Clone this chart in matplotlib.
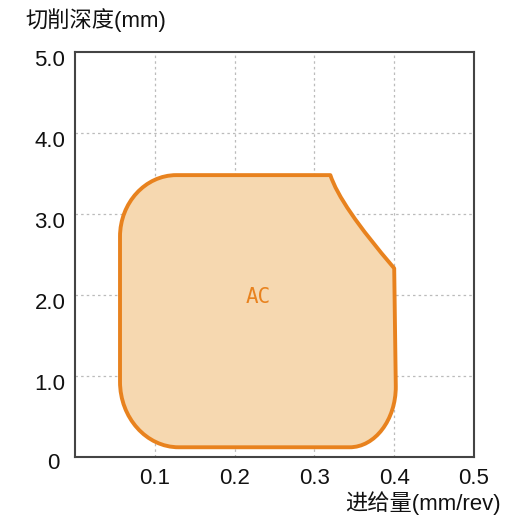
import matplotlib
matplotlib.use("Agg")
import matplotlib.pyplot as plt
from matplotlib.path import Path
from matplotlib.patches import PathPatch
from matplotlib.transforms import ScaledTranslation

# Region outline (feed mm/rev, depth mm).
# Straight-edge end points and the corner points that the rounded corners bend around.
top_left = (0.127, 3.48)
top_right = (0.320, 3.48)
chamfer_ctrl = (0.332, 3.11)
chamfer_end = (0.400, 2.33)
right_low = (0.402, 0.87)
corner_br = (0.402, 0.12)
bottom_right = (0.344, 0.12)
bottom_left = (0.130, 0.12)
corner_bl = (0.0564, 0.12)
left_low = (0.0564, 0.93)
left_high = (0.0564, 2.72)
corner_tl = (0.0564, 3.48)

region_label = "AC"
label_pos = (0.230, 1.98)

x_ticks = [0.1, 0.2, 0.3, 0.4, 0.5]
x_tick_labels = ["0.1", "0.2", "0.3", "0.4", "0.5"]
y_ticks = [1.0, 2.0, 3.0, 4.0, 5.0]
y_tick_labels = ["1.0", "2.0", "3.0", "4.0", "5.0"]

fam = ['Liberation Sans', 'Noto Sans CJK SC', 'DejaVu Sans']
plt.rcParams['font.family'] = fam

K = 0.55


def toward(p, c, k=K):
    return (p[0] + k * (c[0] - p[0]), p[1] + k * (c[1] - p[1]))


verts = [top_left, top_right,
         chamfer_ctrl, chamfer_end,
         right_low,
         toward(right_low, corner_br), toward(bottom_right, corner_br), bottom_right,
         bottom_left,
         toward(bottom_left, corner_bl), toward(left_low, corner_bl), left_low,
         left_high,
         toward(left_high, corner_tl), toward(top_left, corner_tl), top_left,
         top_left]
codes = [Path.MOVETO, Path.LINETO,
         Path.CURVE3, Path.CURVE3,
         Path.LINETO,
         Path.CURVE4, Path.CURVE4, Path.CURVE4,
         Path.LINETO,
         Path.CURVE4, Path.CURVE4, Path.CURVE4,
         Path.LINETO,
         Path.CURVE4, Path.CURVE4, Path.CURVE4,
         Path.CLOSEPOLY]

W, H = 529, 518
fig = plt.figure(figsize=(W / 100, H / 100), dpi=100)
ax = fig.add_axes([75 / W, (H - 457) / H, 399 / W, 405 / H])
ax.set_xlim(0, 0.5)
ax.set_ylim(0, 5)

patch = PathPatch(Path(verts, codes), facecolor='#F6D8B0', edgecolor='#E8821E',
                  linewidth=2.8, joinstyle='round', zorder=2)
ax.add_patch(patch)
ax.text(label_pos[0], label_pos[1], region_label, color='#E8821E', fontsize=15,
        family='DejaVu Sans Mono', ha='center', va='center', zorder=3)

for x in x_ticks[:-1]:
    ax.axvline(x, color='#BBBBBB', linestyle=(0, (2, 2.5)), linewidth=0.9, zorder=1)
for y in y_ticks[:-1]:
    ax.axhline(y, color='#BBBBBB', linestyle=(0, (2, 2.5)), linewidth=0.9, zorder=1)

ax.set_xticks(x_ticks)
ax.set_xticklabels(x_tick_labels)
ax.set_yticks(y_ticks)
ax.set_yticklabels(y_tick_labels)
ax.tick_params(axis='both', length=0, labelsize=16, colors='#111111')
ax.tick_params(axis='x', pad=8)
ax.tick_params(axis='y', pad=7)
shift = ScaledTranslation(0, -6 / 100, fig.dpi_scale_trans)
for lab in ax.get_yticklabels():
    lab.set_transform(lab.get_transform() + shift)
for s in ax.spines.values():
    s.set_color('#444444')
    s.set_linewidth(1.5)

ax.text(-0.027, -0.08, "0", transform=ax.transData, fontsize=16, ha='center',
        va='center', color='#111111', clip_on=False)

fig.text(25 / W, 1 - 20 / H, "切削深度(mm)", fontsize=16, ha='left', va='center',
         color='#111111')
fig.text(501 / W, 1 - 503 / H, "进给量(mm/rev)", fontsize=16, ha='right',
         va='center', color='#111111')

fig.savefig("out.png", dpi=100, facecolor='white')
